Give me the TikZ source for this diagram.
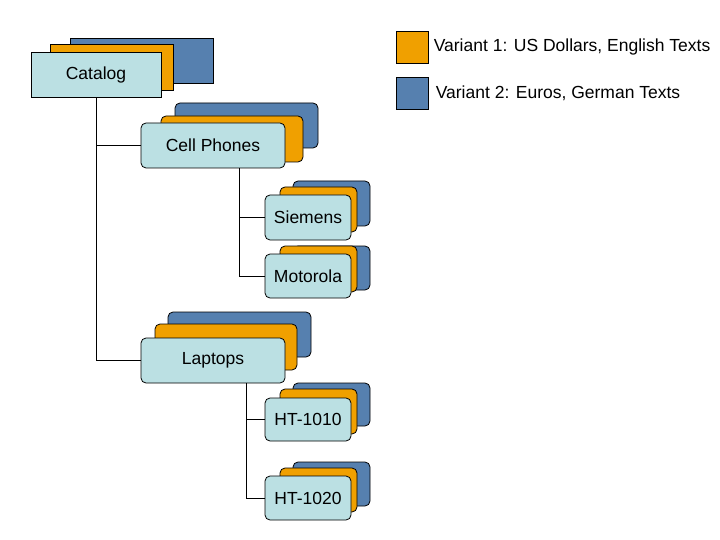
\documentclass[tikz,border=0pt]{standalone}
\usepackage{fontspec}
\setmainfont{Liberation Sans}
\usetikzlibrary{positioning}
\definecolor{frontcol}{RGB}{187,224,227}
\definecolor{usdcol}{RGB}{240,160,0}
\definecolor{eurcol}{RGB}{86,128,175}
\tikzset{
  usd/.style={draw, fill=usdcol},
  eur/.style={draw, fill=eurcol},
  front/.style={draw, fill=frontcol, inner sep=0pt, font=\fontsize{17.5}{20}\selectfont},
  tree/.style={draw, line width=0.8pt}
}
\begin{document}
\begin{tikzpicture}[x=1pt, y=-1pt, line width=0.8pt]
\useasboundingbox (0,0) rectangle (720,540);
% catalog
\draw[eur] (70,38) rectangle (213,83);
\draw[usd] (50,44) rectangle (173,90);
\node[front, minimum width=130pt, minimum height=45pt] (catalog) at (96,74.5) {Catalog};
% cell phones
\draw[eur, rounded corners=5pt] (175,103) rectangle (318,148);
\draw[usd, rounded corners=5pt] (161,116) rectangle (303,162);
\node[front, rounded corners=5pt, minimum width=144pt, minimum height=45pt] (phones) at (213,145.5) {Cell Phones};
\draw[eur, rounded corners=5pt] (293,181) rectangle (370,226);
\draw[usd, rounded corners=5pt] (280,187) rectangle (357,232);
\node[front, rounded corners=5pt, minimum width=86pt, minimum height=45pt] (siemens) at (308,217.5) {Siemens};
\draw[eur, rounded corners=5pt] (293,246) rectangle (370,290);
\draw[usd, rounded corners=5pt] (280,246) rectangle (357,292);
\node[front, rounded corners=5pt, minimum width=86pt, minimum height=44pt] (motorola) at (308,276) {Motorola};
% laptops
\draw[eur, rounded corners=5pt] (168,312) rectangle (311,357);
\draw[usd, rounded corners=5pt] (155,324) rectangle (297,370);
\node[front, rounded corners=5pt, minimum width=144pt, minimum height=45pt] (laptops) at (213,360.5) {Laptops};
\draw[eur, rounded corners=5pt] (293,383) rectangle (370,426);
\draw[usd, rounded corners=5pt] (280,389) rectangle (357,434);
\node[front, rounded corners=5pt, minimum width=86pt, minimum height=43pt] (ht1010) at (308,419.5) {HT-1010};
\draw[eur, rounded corners=5pt] (293,462) rectangle (370,506);
\draw[usd, rounded corners=5pt] (280,468) rectangle (357,512);
\node[front, rounded corners=5pt, minimum width=86pt, minimum height=44pt] (ht1020) at (308,498) {HT-1020};
% tree lines
\draw[tree] ([xshift=-65pt]catalog.south east) coordinate (c1) -- (c1 |- laptops.west) -- (laptops.west);
\draw[tree] (c1 |- phones.west) -- (phones.west);
\draw[tree] ([xshift=26pt]phones.south) coordinate (c2) -- (c2 |- motorola.west) -- (motorola.west);
\draw[tree] (c2 |- siemens.west) -- (siemens.west);
\draw[tree] ([xshift=33pt]laptops.south) coordinate (c3) -- (c3 |- ht1020.west) -- (ht1020.west);
\draw[tree] (c3 |- ht1010.west) -- (ht1010.west);
% legend
\node[usd, minimum size=32pt, inner sep=0pt] (key1) at (412,47) {};
\node[right=5pt of key1, inner sep=0pt, font=\fontsize{17.5}{20}\selectfont] (txt1) {Variant 1: US Dollars, English Texts};
\node[eur, minimum size=32pt, inner sep=0pt] (key2) at (412,93) {};
\node[right=7pt of key2, inner sep=0pt, font=\fontsize{17.5}{20}\selectfont] (txt2) {Variant 2: Euros, German Texts};
\end{tikzpicture}
\end{document}
